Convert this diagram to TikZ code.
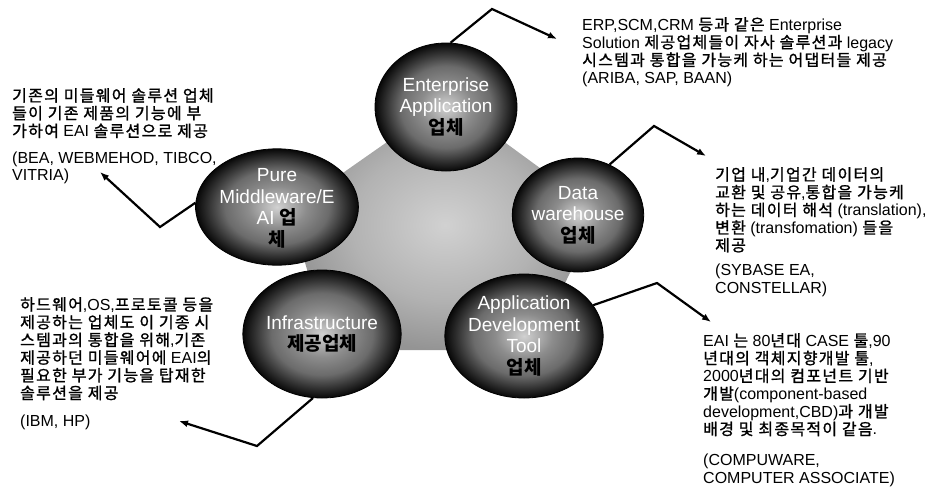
\documentclass[tikz,border=0pt]{standalone}
\usepackage{fontspec}
\setmainfont{Liberation Sans}
\newfontfamily\kr[LetterSpace=8,FakeBold=1.2]{Noto Sans CJK KR}
\newfontfamily\krc{Noto Sans CJK KR}
\usetikzlibrary{shapes.geometric,arrows.meta}
\newcommand\kor[1]{{\kr #1}}
\newcommand\kbold[1]{{\krc\bfseries\color{black}#1}}
\pgfdeclareradialshading{orb}{\pgfpoint{0bp}{0bp}}{color(0bp)=(black!18); color(9bp)=(black!45); color(16bp)=(black!58); color(21bp)=(black!80); color(25bp)=(black!97); color(50bp)=(black!97)}
\pgfdeclareradialshading{pent}{\pgfpoint{0bp}{0bp}}{color(0bp)=(black!18); color(15bp)=(black!30); color(25bp)=(black!42); color(50bp)=(black!42)}
\begin{document}
\begin{tikzpicture}[x=1pt,y=-1pt,
  orbnode/.style={ellipse, shading=orb, draw=black, line width=0.8pt, inner sep=0pt,
    align=center, text=white, font=\fontsize{19}{21.5}\selectfont},
  note/.style={anchor=north west, inner sep=0pt, align=left,
    font=\fontsize{16}{17.7}\selectfont},
  link/.style={line width=2.2pt, line join=miter, -{Latex[length=9pt,width=7pt]}}]
\useasboundingbox (0,0) rectangle (931,491);
% background pentagon
\shade[shading=pent, rounded corners=20pt] (447,100) -- (600,212) -- (532,350) -- (330,350) -- (290,210) -- cycle;
% circles
\node[orbnode, minimum width=142pt, minimum height=128pt] (ea) at (446,107) {Enterprise\\Application\\\kbold{업체}};
\node[orbnode, minimum width=128pt, minimum height=114pt] (dw) at (578,215) {Data\\warehouse\\\kbold{업체}};
\node[orbnode, minimum width=138pt, minimum height=124pt] (adt) at (524,336) {Application\\Development\\Tool\\\kbold{업체}};
\node[orbnode, minimum width=156pt, minimum height=128pt] (inf) at (322,334) {Infrastructure\\\kbold{제공업체}};
\node[orbnode, minimum width=122pt, minimum height=114pt] (pm) at (277,207) {\rule{0pt}{16pt}Pure\\Middleware/E\\AI \kbold{업}\\\kbold{체}};
% texts
\node[note] (tea) at (582,17) {ERP,SCM,CRM \kor{등과 같은} Enterprise\\Solution \kor{제공업체들이 자사 솔루션과} legacy\\\kor{시스템과 통합을 가능케 하는 어댑터들 제공}\\(ARIBA, SAP, BAAN)};
\node[note] (tdw) at (715,167) {\kor{기업 내},\kor{기업간 데이터의}\\\kor{교환 및 공유},\kor{통합을 가능케}\\\kor{하는 데이터 해석} (translation),\\\kor{변환} (transfomation) \kor{들을}\\\kor{제공}\\[7pt](SYBASE EA,\\CONSTELLAR)};
\node[note] (tadt) at (703,333) {EAI \kor{는} 80\kor{년대} CASE \kor{툴},90\\\kor{년대의 객체지향개발 툴},\\2000\kor{년대의 컴포넌트 기반}\\\kor{개발}(component-based\\development,CBD)\kor{과 개발}\\\kor{배경 및 최종목적이 같음}.\\[13pt](COMPUWARE,\\COMPUTER ASSOCIATE)};
\node[note] (tpm) at (12,88) {\kor{기존의 미들웨어 솔루션 업체}\\\kor{들이 기존 제품의 기능에 부}\\\kor{가하여} EAI \kor{솔루션으로 제공}\\[8.5pt](BEA, WEBMEHOD, TIBCO,\\VITRIA)};
\node[note] (tinf) at (20,297) {\kor{하드웨어},OS,\kor{프로토콜 등을}\\\kor{제공하는 업체도 이 기종 시}\\\kor{스템과의 통합을 위해},\kor{기존}\\\kor{제공하던 미들웨어에} EAI\kor{의}\\\kor{필요한 부가 기능을 탑재한}\\\kor{솔루션을 제공}\\[9.5pt](IBM, HP)};
% connectors
\coordinate (eak) at (492,9);  \coordinate (eat) at (557,39);
\coordinate (dwk) at (654,126); \coordinate (dwt) at (706,156);
\coordinate (adtk) at (657,283); \coordinate (adtt) at (711,322);
\coordinate (pmk) at (160,227); \coordinate (pmt) at (100,172);
\coordinate (infk) at (257,446); \coordinate (inft) at (179,421);
\draw[link] (ea.86) -- (eak) -- (eat);
\draw[link] (dw.58) -- (dwk) -- (dwt);
\draw[link] (adt.24) -- (adtk) -- (adtt);
\draw[link] (pm.177) -- (pmk) -- (pmt);
\draw[link] (inf.262) -- (infk) -- (inft);
\end{tikzpicture}
\end{document}
